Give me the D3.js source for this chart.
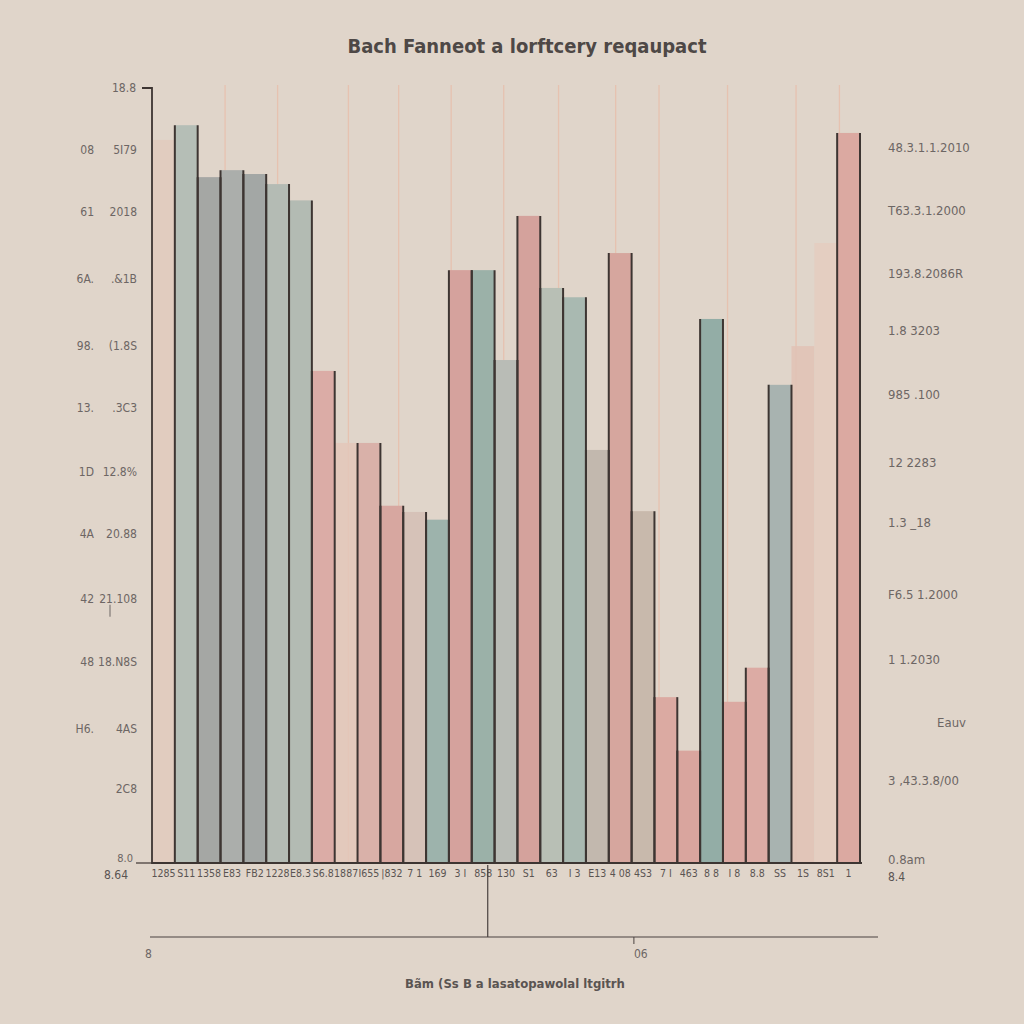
<!DOCTYPE html>
<html>
<head>
<meta charset="utf-8">
<script src="https://cdn.jsdelivr.net/npm/d3@7/dist/d3.min.js"></script>
<style>
  html, body { margin: 0; padding: 0; background: #e0d5ca; }
  svg { display: block; }
  text { font-family: "Liberation Sans Narrow", "DejaVu Sans Condensed", "Liberation Sans", sans-serif; }
</style>
</head>
<body>
<script>
// ---- data ----
const categories = ["1285","S11","1358","E83","FB2","1228","E8.3","S6.8","1887","I655","|832","7 1","169","3 I","858","130","S1","63","I 3","E13","4 08","4S3","7 I","463","8 8","I 8","8.8","SS","1S","8S1","1"];
const values = [93.3,95.2,88.5,89.4,88.9,87.6,85.5,63.5,54.2,54.2,46.1,45.3,44.3,76.5,76.5,64.9,83.5,74.2,73.0,53.3,78.7,45.4,21.4,14.5,70.2,20.8,25.2,61.7,66.7,80.0,94.2];
const barColors = ["#e0cabd","#b5beb6","#a5a7a4","#abaeab","#a3a7a5","#b4bbb4","#b3bbb3","#dbaca6","#e3c7ba","#d9b1a9","#d7a7a0","#d6c2b8","#9db3ac","#d5a29d","#9bb1a8","#b9bcb6","#d4a29c","#b8bfb5","#a9b9b1","#c2b8ae","#d6a69e","#c8b9ac","#dbaaa2","#d9a59e","#93ada6","#dba9a2","#dcaba4","#a8b3b0","#e1c2b5","#e4cdbf","#dba9a1"];
const faint = [1,0,0,0,0,0,0,0,1,0,0,0,0,0,0,0,0,0,0,0,0,0,0,0,0,0,0,0,1,1,0];
const gridAt = [3.2,5.5,8.6,10.8,13.1,15.4,17.8,20.3,22.2,25.2,28.2,30.1];
const leftTickValues = [92, 84, 75.3, 66.7, 58.7, 50.5, 42.4, 34.1, 25.9, 17.3, 9.5];
const leftLabelsA = ["08","61","6A.","98.","13.","1D","4A","42","48","H6.",""];
const leftLabelsB = ["5I79","2018",".&1B","(1.8S",".3C3","12.8%","20.88","21.108","18.N8S","4AS","2C8"];
const rightTickValues = [92.3, 84.1, 76.0, 68.6, 60.4, 51.6, 43.9, 34.6, 26.2, 18.1, 10.6, 0.4];
const rightLabels = ["48.3.1.1.2010","T63.3.1.2000","193.8.2086R","1.8 3203","985 .100","12 2283","1.3 _18","F6.5 1.2000","1 1.2030","Eauv","3 ,43.3.8/00","0.8am"];
const titleText = "Bach Fanneot a lorftcery reqaupact";
const xTitleText = "Bãm (Ss B a lasatopawolal ltgitrh";

// ---- layout ----
const W = 1024, H = 1024;
const plot = { left: 152, right: 860, top: 88, bottom: 863 };
const svg = d3.select("body").append("svg").attr("width", W).attr("height", H);
svg.append("rect").attr("width", W).attr("height", H).attr("fill", "#e0d5ca");

const x = d3.scaleBand().domain(categories).range([plot.left, plot.right]).padding(0);
const y = d3.scaleLinear().domain([0, 100]).range([plot.bottom, plot.top]);
const xi = d3.scaleLinear().domain([0, categories.length]).range([plot.left, plot.right]);

// gridlines
svg.append("g").selectAll("line").data(gridAt).join("line")
  .attr("x1", d => xi(d)).attr("x2", d => xi(d))
  .attr("y1", y(100.4)).attr("y2", plot.bottom)
  .attr("stroke", "#e6c2b0").attr("stroke-width", 1.3);

// bars
const bars = categories.map((c, i) => ({ c, v: values[i], col: barColors[i], faint: faint[i] }));
svg.append("g").selectAll("rect").data(bars).join("rect")
  .attr("x", d => x(d.c)).attr("width", x.bandwidth())
  .attr("y", d => y(d.v)).attr("height", d => plot.bottom - y(d.v))
  .attr("fill", d => d.col)
  .attr("opacity", d => d.faint ? 0.85 : 1);

// dark bar edges
const edges = [];
bars.forEach(d => {
  if (!d.faint) {
    edges.push({ x: x(d.c), v: d.v });
    edges.push({ x: x(d.c) + x.bandwidth(), v: d.v });
  }
});
svg.append("g").selectAll("line").data(edges).join("line")
  .attr("x1", d => d.x).attr("x2", d => d.x)
  .attr("y1", d => y(d.v)).attr("y2", plot.bottom)
  .attr("stroke", "#3d3532").attr("stroke-width", 2);

// left axis
const axisCol = "#3d3532";
svg.append("path")
  .attr("d", `M${plot.left - 10},${plot.top}H${plot.left}V${plot.bottom}H${plot.right + 2}`)
  .attr("fill", "none").attr("stroke", axisCol).attr("stroke-width", 1.8);
svg.append("line").attr("x1", plot.left - 16).attr("x2", plot.left).attr("y1", plot.bottom).attr("y2", plot.bottom)
  .attr("stroke", axisCol).attr("stroke-width", 1.2);

const lblCol = "#6d6664";
svg.append("text").attr("x", plot.left - 16).attr("y", plot.top + 4).attr("text-anchor", "end")
  .attr("font-size", 12).attr("fill", lblCol).text("18.8");
svg.append("text").attr("x", plot.left - 19).attr("y", plot.bottom - 1).attr("text-anchor", "end")
  .attr("font-size", 11).attr("fill", lblCol).text("8.0");

const lg = svg.append("g");
lg.selectAll("text.a").data(leftTickValues).join("text").attr("class", "a")
  .attr("x", 94).attr("y", d => y(d) + 4).attr("text-anchor", "end")
  .attr("font-size", 12).attr("fill", lblCol).text((d, i) => leftLabelsA[i]);
lg.selectAll("text.b").data(leftTickValues).join("text").attr("class", "b")
  .attr("x", 137).attr("y", d => y(d) + 4).attr("text-anchor", "end")
  .attr("font-size", 12).attr("fill", lblCol).text((d, i) => leftLabelsB[i]);
// small stray tick under one label
svg.append("line").attr("x1", 110).attr("x2", 110).attr("y1", y(34.1) + 6).attr("y2", y(34.1) + 18)
  .attr("stroke", lblCol).attr("stroke-width", 1);

// right labels
svg.append("g").selectAll("text").data(rightTickValues).join("text")
  .attr("x", (d, i) => rightLabels[i] === "Eauv" ? 966 : 888)
  .attr("text-anchor", (d, i) => rightLabels[i] === "Eauv" ? "end" : "start")
  .attr("y", d => y(d) + 4)
  .attr("font-size", 13).attr("fill", lblCol)
  .text((d, i) => rightLabels[i]);

// x axis labels
const xAxis = d3.axisBottom(x).tickSize(0).tickPadding(7);
const gx = svg.append("g").attr("transform", `translate(0,${plot.bottom})`).call(xAxis);
gx.select(".domain").remove();
gx.selectAll("text").attr("font-size", 10.5).attr("fill", "#5a5452")
  .style("font-family", "\"Liberation Sans Narrow\", \"DejaVu Sans Condensed\", sans-serif");
svg.append("text").attr("x", 104).attr("y", plot.bottom + 16).attr("font-size", 12).attr("fill", "#5a5452").text("8.64");
svg.append("text").attr("x", 888).attr("y", plot.bottom + 18).attr("font-size", 12).attr("fill", "#5a5452").text("8.4");

// secondary bottom axis line
svg.append("line").attr("x1", 150).attr("x2", 878).attr("y1", 937).attr("y2", 937)
  .attr("stroke", "#4a4240").attr("stroke-width", 1.2);
svg.append("line").attr("x1", xi(14.7)).attr("x2", xi(14.7)).attr("y1", plot.bottom + 2).attr("y2", 937)
  .attr("stroke", "#4a4240").attr("stroke-width", 1.2);
svg.append("line").attr("x1", xi(21.1)).attr("x2", xi(21.1)).attr("y1", 937).attr("y2", 944)
  .attr("stroke", "#4a4240").attr("stroke-width", 1);
svg.append("text").attr("x", 145).attr("y", 958).attr("font-size", 12).attr("fill", lblCol).text("8");
svg.append("text").attr("x", xi(21.1)).attr("y", 958).attr("font-size", 12).attr("fill", lblCol).text("06");

// titles
svg.append("text").attr("x", 527).attr("y", 53).attr("text-anchor", "middle")
  .attr("font-size", 20).attr("font-weight", "bold").attr("fill", "#4e4846").text(titleText);
svg.append("text").attr("x", 515).attr("y", 988).attr("text-anchor", "middle")
  .attr("font-size", 13).attr("font-weight", "bold").attr("fill", "#5a5452").text(xTitleText);
</script>
</body>
</html>
